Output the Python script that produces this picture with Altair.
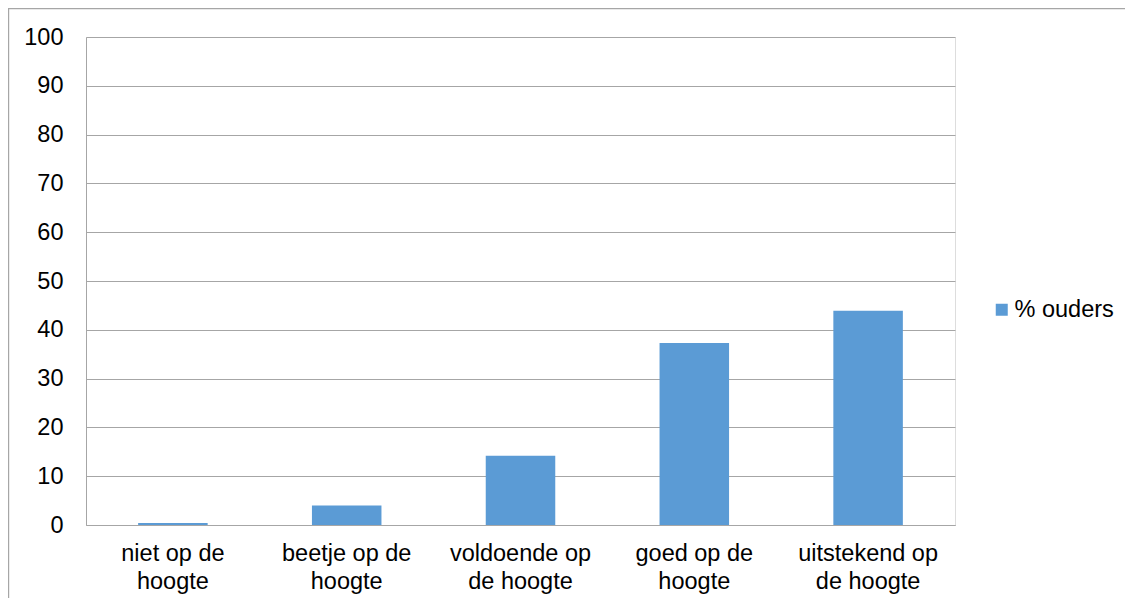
import altair as alt
import pandas as pd

categories = ["niet op de|hoogte", "beetje op de|hoogte", "voldoende op|de hoogte",
              "goed op de|hoogte", "uitstekend op|de hoogte"]
values = [0.4, 4.0, 14.2, 37.3, 43.9]
series = "% ouders"
y_ticks = [0, 10, 20, 30, 40, 50, 60, 70, 80, 90, 100]

df = pd.DataFrame({"cat": categories, "val": values, "series": [series] * len(values)})

FONT = "Liberation Sans"
FS = 23.5
GRID = "#A6A6A6"

border = alt.Chart(alt.Data(values=[{"a": 1}])).mark_rect(
    fillOpacity=0, stroke=GRID, strokeWidth=1.2, clip=False
).encode(
    x=alt.value(-77.4), x2=alt.value(1100), y=alt.value(-28.4), y2=alt.value(600)
)

bars = alt.Chart(df).mark_bar(clip=False).encode(
    x=alt.X("cat:N", sort=categories, title=None,
            scale=alt.Scale(paddingInner=0.6, paddingOuter=0.3),
            axis=alt.Axis(labelAngle=0, labelExpr="split(datum.label, '|')",
                          labelLineHeight=28, labelPadding=16, ticks=False,
                          domainColor=GRID, labelFont=FONT, labelFontSize=FS,
                          labelColor="black", grid=False)),
    y=alt.Y("val:Q", title=None, scale=alt.Scale(domain=[0, 100], nice=False),
            axis=alt.Axis(values=y_ticks, ticks=False, labelPadding=23,
                          domainColor=GRID, gridColor=GRID, labelFont=FONT,
                          labelFontSize=FS, labelColor="black")),
    color=alt.Color("series:N", scale=alt.Scale(range=["#5B9BD5"]),
                    legend=alt.Legend(title=None, orient="none", legendX=904, legendY=261,
                                      symbolType="square", symbolSize=144,
                                      symbolStrokeWidth=0, labelFont=FONT,
                                      labelFontSize=FS, labelColor="black",
                                      labelOffset=1))
)

chart = alt.layer(border, bars).properties(
    width=869, height=488,
    padding={"left": 78, "top": 29, "right": 170, "bottom": 73},
    autosize=alt.AutoSizeParams(type="none"),
).configure_view(stroke=None).configure(background="white")

chart.save("out.html", embed_options={"renderer": "svg", "actions": False})
